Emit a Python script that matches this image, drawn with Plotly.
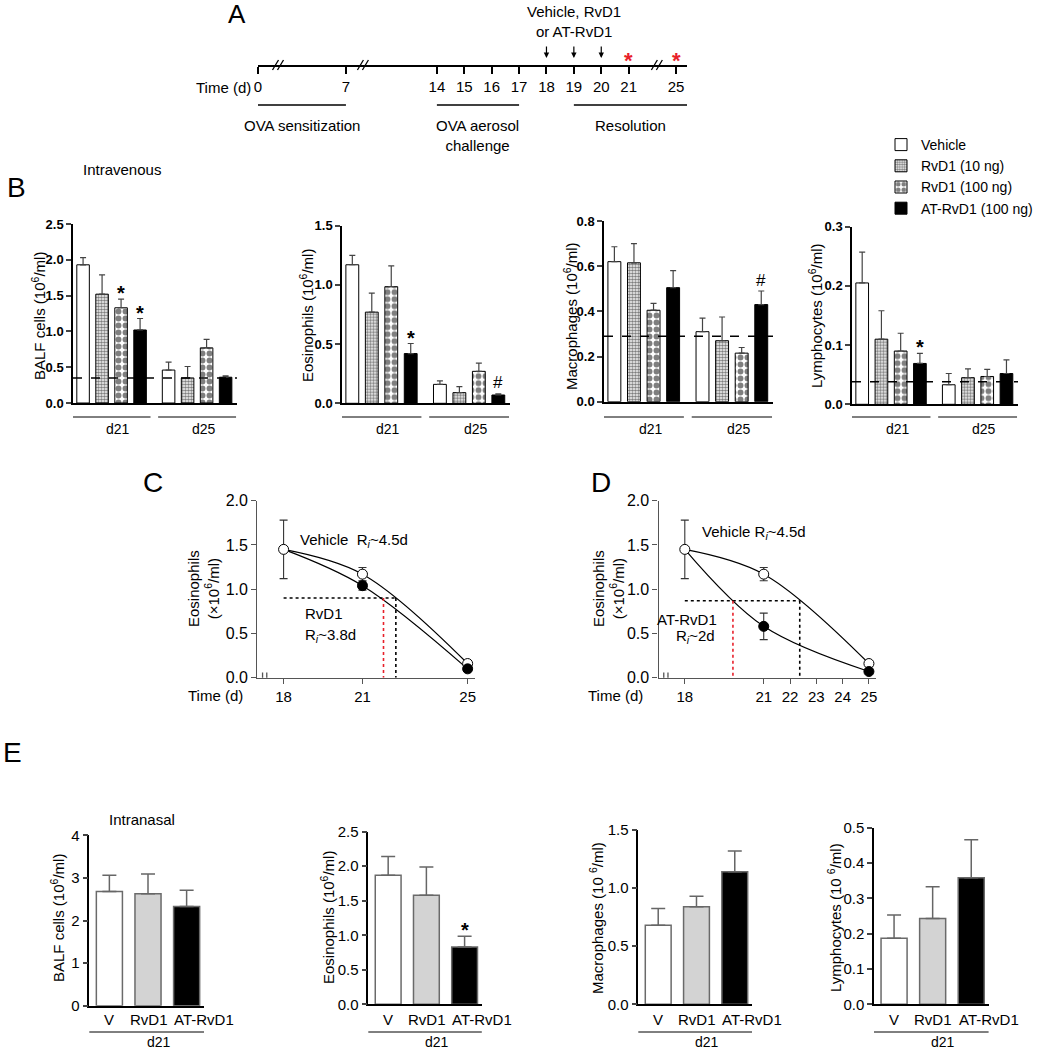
import plotly.graph_objects as go

W, H = 1041, 1050
FONT = "Liberation Sans, Arial, Helvetica, sans-serif"

# ================= DATA =================
# Panel A - protocol timeline
timeline_days = [0, 7, 14, 15, 16, 17, 18, 19, 20, 21, 25]
dosing_days = [18, 19, 20]
harvest_days = [21, 25]
phase_labels = ["OVA sensitization", "OVA aerosol<br>challenge", "Resolution"]
phase_start = [0, 14, 19]
phase_end = [7, 17, 25]

# Panel B - intravenous treatment, values (10^6/ml), [treatment][day]
treatments = ["Vehicle", "RvD1 (10 ng)", "RvD1 (100 ng)", "AT-RvD1 (100 ng)"]
b_days = ["d21", "d25"]
balf_mean = [[1.93, 0.46], [1.52, 0.35], [1.33, 0.77], [1.02, 0.36]]
balf_sem = [[0.10, 0.11], [0.27, 0.16], [0.12, 0.12], [0.16, 0.02]]
eos_mean = [[1.17, 0.16], [0.77, 0.09], [0.985, 0.27], [0.42, 0.07]]
eos_sem = [[0.08, 0.03], [0.16, 0.05], [0.175, 0.07], [0.085, 0.01]]
mac_mean = [[0.62, 0.31], [0.615, 0.27], [0.405, 0.215], [0.505, 0.43]]
mac_sem = [[0.066, 0.06], [0.085, 0.105], [0.03, 0.025], [0.075, 0.06]]
lym_mean = [[0.205, 0.033], [0.11, 0.045], [0.09, 0.047], [0.069, 0.052]]
lym_sem = [[0.052, 0.019], [0.048, 0.015], [0.03, 0.012], [0.017, 0.023]]
naive_baseline = [0.35, None, 0.29, 0.038]
b_titles = ["BALF cells (10<sup>6</sup>/ml)", "Eosinophils (10<sup>6</sup>/ml)",
            "Macrophages (10<sup>6</sup>/ml)", "Lymphocytes (10<sup>6</sup>/ml)"]
b_ymax = [2.5, 1.5, 0.8, 0.3]
b_dtick = [0.5, 0.5, 0.2, 0.1]
# significance marks: (treatment index, day index, symbol)
b_marks = [[(2, 0, "*"), (3, 0, "*")], [(3, 0, "*"), (3, 1, "#")], [(3, 1, "#")], [(3, 0, "*")]]

# Panels C/D - eosinophil resolution kinetics (x10^6/ml)
cd_days = [18, 21, 25]
veh_eos = [1.45, 1.17, 0.16]
veh_eos_sem = [0.33, 0.075, 0.02]
rvd1_eos = [1.45, 1.04, 0.10]
rvd1_eos_sem = [0.33, 0.05, 0.02]
atrvd1_eos = [1.45, 0.58, 0.07]
atrvd1_eos_sem = [0.33, 0.15, 0.015]
c_half_level, c_t_veh, c_t_trt = 0.90, 22.27, 21.8
d_half_level, d_t_veh, d_t_trt = 0.87, 22.37, 19.83
c_ticks = [18, 21, 25]
d_ticks = [18, 21, 22, 23, 24, 25]

# Panel E - intranasal, d21
e_groups = ["V", "RvD1", "AT-RvD1"]
e_balf_mean = [2.68, 2.63, 2.33]
e_balf_sem = [0.38, 0.46, 0.38]
e_eos_mean = [1.87, 1.58, 0.83]
e_eos_sem = [0.27, 0.41, 0.155]
e_mac_mean = [0.68, 0.84, 1.14]
e_mac_sem = [0.145, 0.09, 0.18]
e_lym_mean = [0.187, 0.243, 0.358]
e_lym_sem = [0.066, 0.09, 0.108]
e_titles = ["BALF cells (10<sup>6</sup>/ml)", "Eosinophils (10<sup>6</sup>/ml)",
            "Macrophages (10 <sup>6</sup>/ml)", "Lymphocytes (10 <sup>6</sup>/ml)"]
e_ymax = [4, 2.5, 1.5, 0.5]
e_dtick = [1, 0.5, 0.5, 0.1]
e_marks = [[], [(2, "*")], [], []]

# ================= FIGURE =================
fig = go.Figure()
layout = dict(width=W, height=H, margin=dict(l=0, r=0, t=0, b=0, autoexpand=False),
              paper_bgcolor="white", plot_bgcolor="white",
              font=dict(family=FONT, color="black", size=14),
              barmode="overlay", hovermode=False)
annotations = []
shapes = []
axes_count = [0]


def px(x):
    return x / W


def py(y):
    return 1 - y / H


def add_axes(xpx, ypx, xrange, yrange, xopts, yopts):
    axes_count[0] += 1
    n = axes_count[0]
    s = "" if n == 1 else str(n)
    layout["xaxis" + s] = dict(domain=[px(xpx[0]), px(xpx[1])], range=xrange, anchor="y" + s,
                               showgrid=False, zeroline=False, fixedrange=True, automargin=False, **xopts)
    layout["yaxis" + s] = dict(domain=[py(ypx[1]), py(ypx[0])], range=yrange, anchor="x" + s,
                               showgrid=False, zeroline=False, fixedrange=True, automargin=False, **yopts)
    return "x" + s, "y" + s


def text(x, y, t, size=14, xref="paper", yref="paper", **kw):
    kw.setdefault("xanchor", "center")
    kw.setdefault("yanchor", "middle")
    annotations.append(dict(x=x, y=y, xref=xref, yref=yref, text=t, showarrow=False,
                            font=dict(family=FONT, size=size, color=kw.pop("color", "black"),
                                      weight=kw.pop("weight", "normal")), **kw))


# ---------- Panel A ----------
def tl_pos(day):
    # broken schematic time scale (compressed sensitization, breaks 7-14 and 21-25)
    if day <= 7:
        return day * 3.21 / 7
    if day <= 21:
        return 6.53 + (day - 14)
    return 13.53 + (day - 21) * 1.73 / 4


TL_PX = 27.4
tl_end = 15.66
xa, ya = add_axes([258, 687], [40, 65], [0, tl_end], [0, 1],
                  dict(showline=True, linecolor="black", linewidth=1.5, ticks="outside", ticklen=7,
                       tickwidth=1.5, tickcolor="black", tickvals=[tl_pos(d) for d in timeline_days],
                       ticktext=[str(d) for d in timeline_days], tickfont=dict(size=15), tickangle=0),
                  dict(visible=False))
fig.add_trace(go.Scatter(x=[0], y=[0], xaxis=xa, yaxis=ya, mode="markers",
                         marker=dict(opacity=0), showlegend=False))
for bp in [0.73, 3.83, 14.56]:
    for off in (-2.5, 2.5):
        xc = bp + off / TL_PX
        shapes.append(dict(type="line", xref=xa, yref="paper", x0=xc - 3 / TL_PX, x1=xc + 3 / TL_PX,
                           y0=py(70), y1=py(60), line=dict(color="black", width=1.3)))
text(px(253), py(88), "Time (d)", 15, xanchor="right")
for lab, s0, s1 in zip(phase_labels, phase_start, phase_end):
    x0 = tl_pos(s0)
    x1 = tl_end if s1 == timeline_days[-1] else tl_pos(s1)
    shapes.append(dict(type="line", xref=xa, yref="paper", x0=x0, x1=x1, y0=py(105), y1=py(105),
                       line=dict(color="black", width=1.5)))
    text((x0 + x1) / 2, py(115), lab, 15, xref=xa, yanchor="top")
for d in dosing_days:
    annotations.append(dict(x=tl_pos(d), y=py(58), xref=xa, yref="paper", text="", showarrow=True,
                            ax=0, ay=-13, arrowhead=2, arrowsize=0.9, arrowwidth=1.2, arrowcolor="black"))
text(tl_pos(19), py(22), "Vehicle, RvD1<br>or AT-RvD1", 15, xref=xa)
for d in harvest_days:
    text(tl_pos(d), py(60), "*", 22, xref=xa, color="#e8202a", weight="bold")
text(px(237), py(14), "A", 26)

# ---------- Panel B ----------
b_means = [balf_mean, eos_mean, mac_mean, lym_mean]
b_sems = [balf_sem, eos_sem, mac_sem, lym_sem]
b_xpx = [[73, 237], [342, 510], [604, 773], [852, 1018]]
b_ypx = [[224, 403], [225.7, 403.3], [221, 401.7], [226.7, 404.3]]
b_title_x = [38, 306, 570, 815]
b_xrange = [-0.53, 8.1]
g_off = 4.5
bw = 0.66
b_fill = ["white", "white", "white", "black"]
b_pattern = [dict(shape=""),
             dict(shape=".", size=3, solidity=0.6, fgcolor="black", bgcolor="white"),
             dict(shape=".", size=7, solidity=0.55, fgcolor="black", bgcolor="white"),
             dict(shape="")]

for k in range(4):
    xa, ya = add_axes(b_xpx[k], b_ypx[k], b_xrange, [0, b_ymax[k]],
                      dict(showline=True, linecolor="black", linewidth=1.5, showticklabels=False, ticks=""),
                      dict(showline=True, linecolor="black", linewidth=1.5, ticks="outside", ticklen=5,
                           tickwidth=1.5, dtick=b_dtick[k], tick0=0, tickformat=".1f",
                           tickfont=dict(size=13, weight="bold")))
    for t in range(4):
        xs = [t + g * g_off for g in range(len(b_days))]
        fig.add_trace(go.Bar(x=xs, y=b_means[k][t], width=bw, xaxis=xa, yaxis=ya,
                             name=treatments[t], legendgroup=treatments[t], showlegend=(k == 0),
                             marker=dict(color=b_fill[t], line=dict(color="black", width=1),
                                         pattern=b_pattern[t]),
                             error_y=dict(type="data", array=b_sems[k][t], arrayminus=[0, 0],
                                          symmetric=False, color="#444", thickness=1.2, width=3)))
    if naive_baseline[k] is not None:
        shapes.append(dict(type="line", xref=xa + " domain", yref=ya, x0=0, x1=1,
                           y0=naive_baseline[k], y1=naive_baseline[k],
                           line=dict(color="black", width=1.5, dash="dash")))
    for t, g, sym in b_marks[k]:
        top = b_means[k][t][g] + b_sems[k][t][g]
        if sym == "*":
            text(t + g * g_off, top, "*", 20, xref=xa, yref=ya, weight="bold", yshift=6)
        else:
            text(t + g * g_off, top, "#", 17, xref=xa, yref=ya, yshift=11)
    for g, dlab in enumerate(b_days):
        x0, x1 = g * g_off - 0.55, g * g_off + 3.55
        shapes.append(dict(type="line", xref=xa, yref="paper", x0=x0, x1=x1, y0=py(417), y1=py(417),
                           line=dict(color="black", width=1)))
        text((x0 + x1) / 2 + 0.35, py(429), dlab, 14, xref=xa)
    text(px(b_title_x[k]), py(316), b_titles[k], 15, textangle=-90)

text(px(122), py(170), "Intravenous", 15)
text(px(16), py(188), "B", 28)

layout["legend"] = dict(x=px(881), y=py(129), xanchor="left", yanchor="top",
                        font=dict(size=14), bgcolor="rgba(0,0,0,0)", tracegroupgap=0,
                        itemwidth=30, traceorder="normal")

# ---------- Panels C / D ----------
cd_ypx = [500.7, 677.7]
cd_xrange = [17.0, 25.28]


def kinetics_panel(xpx, trt, trt_sem, level, t_veh, t_trt, ticks):
    xa, ya = add_axes(xpx, cd_ypx, cd_xrange, [0, 2],
                      dict(showline=True, linecolor="#555", linewidth=1.3, ticks="outside", ticklen=5,
                           tickcolor="#555", tickvals=ticks, tickfont=dict(size=15), tickangle=0),
                      dict(showline=True, linecolor="#555", linewidth=1.3, ticks="outside", ticklen=5,
                           tickcolor="#555", dtick=0.5, tick0=0, tickformat=".1f",
                           tickfont=dict(size=16)))
    # fitted resolution curves
    fig.add_trace(go.Scatter(x=cd_days, y=trt, xaxis=xa, yaxis=ya, mode="lines", showlegend=False,
                             line=dict(color="black", width=1.2, shape="spline", smoothing=1.0)))
    fig.add_trace(go.Scatter(x=cd_days, y=veh_eos, xaxis=xa, yaxis=ya, mode="lines", showlegend=False,
                             line=dict(color="black", width=1.2, shape="spline", smoothing=1.0)))
    # R_i construction lines
    fig.add_trace(go.Scatter(x=[cd_days[0], t_veh], y=[level, level], xaxis=xa, yaxis=ya, mode="lines",
                             showlegend=False, line=dict(color="black", width=1.6, dash="dot")))
    fig.add_trace(go.Scatter(x=[t_veh, t_veh], y=[level, 0], xaxis=xa, yaxis=ya, mode="lines",
                             showlegend=False, line=dict(color="black", width=1.6, dash="dot")))
    fig.add_trace(go.Scatter(x=[t_trt, t_trt], y=[level, 0], xaxis=xa, yaxis=ya, mode="lines",
                             showlegend=False, line=dict(color="#e8202a", width=1.6, dash="dot")))
    # points
    fig.add_trace(go.Scatter(x=cd_days, y=veh_eos, xaxis=xa, yaxis=ya, mode="markers", showlegend=False,
                             marker=dict(color="white", size=10, line=dict(color="black", width=1)),
                             error_y=dict(type="data", array=veh_eos_sem, color="#333", thickness=1.1, width=4)))
    fig.add_trace(go.Scatter(x=cd_days[1:], y=trt[1:], xaxis=xa, yaxis=ya, mode="markers", showlegend=False,
                             marker=dict(color="black", size=10, line=dict(color="black", width=1)),
                             error_y=dict(type="data", array=trt_sem[1:], color="#333", thickness=1.1, width=4)))
    # axis break marks
    for bx in (17.2, 17.36):
        shapes.append(dict(type="line", xref=xa, yref=ya, x0=bx, x1=bx, y0=-0.06, y1=0.06,
                           line=dict(color="#555", width=1.3)))
    return xa, ya


xa, ya = kinetics_panel([257.3, 475], rvd1_eos, rvd1_eos_sem, c_half_level, c_t_veh, c_t_trt, c_ticks)
text(18.55, 1.545, "Vehicle  R<sub><i>i</i></sub>~4.5d", 15, xref=xa, yref=ya, xanchor="left")
text(18.74, 0.72, "RvD1", 15, xref=xa, yref=ya, xanchor="left")
text(18.74, 0.48, "R<sub><i>i</i></sub>~3.8d", 15, xref=xa, yref=ya, xanchor="left")
text(px(245), py(695), "Time (d)", 15, xanchor="right")
text(px(203), py(589), "Eosinophils<br>(×10<sup>6</sup>/ml)", 15, textangle=-90)
text(px(153), py(482), "C", 28)

xa, ya = kinetics_panel([658.5, 876.3], atrvd1_eos, atrvd1_eos_sem, d_half_level, d_t_veh, d_t_trt, d_ticks)
text(18.59, 1.646, "Vehicle R<sub><i>i</i></sub>~4.5d", 15, xref=xa, yref=ya, xanchor="left")
text(18.1, 0.66, "AT-RvD1", 15, xref=xa, yref=ya)
text(18.4, 0.46, "R<sub><i>i</i></sub>~2d", 15, xref=xa, yref=ya)
text(px(645), py(695), "Time (d)", 15, xanchor="right")
text(px(608), py(589), "Eosinophils<br>(×10<sup>6</sup>/ml)", 15, textangle=-90)
text(px(601), py(482), "D", 28)

# ---------- Panel E ----------
e_means = [e_balf_mean, e_eos_mean, e_mac_mean, e_lym_mean]
e_sems = [e_balf_sem, e_eos_sem, e_mac_sem, e_lym_sem]
e_xpx = [[89.3, 204], [368.3, 481.8], [638.3, 752], [874, 988.6]]
e_ypx = [[835.3, 1005.7], [831.7, 1004.3], [830, 1004.3], [827.7, 1004.3]]
e_title_x = [57, 327, 596, 834]
e_xrange = [-0.52, 2.45]
e_fill = ["white", "#d3d3d3", "black"]
e_label_shift = [0, 0.02, 0.45]   # category labels nudged apart as in the original
for k in range(4):
    fmt = "d" if e_dtick[k] >= 1 else ".1f"
    xa, ya = add_axes(e_xpx[k], e_ypx[k], e_xrange, [0, e_ymax[k]],
                      dict(showline=True, linecolor="black", linewidth=1.5, ticks="", showticklabels=False),
                      dict(showline=True, linecolor="black", linewidth=1.5, ticks="outside", ticklen=5,
                           tickwidth=1.5, dtick=e_dtick[k], tick0=0, tickformat=fmt,
                           tickfont=dict(size=15)))
    fig.add_trace(go.Bar(x=list(range(len(e_groups))), y=e_means[k], width=0.675, xaxis=xa, yaxis=ya,
                         showlegend=False,
                         marker=dict(color=e_fill, line=dict(color="#6a6a6a", width=1.5)),
                         error_y=dict(type="data", array=e_sems[k], arrayminus=[0, 0, 0], symmetric=False,
                                      color="#666", thickness=1.5, width=7)))
    for i, lab in enumerate(e_groups):
        text(i + e_label_shift[i], py(1019), lab, 15, xref=xa)
    for g, sym in e_marks[k]:
        text(g, e_means[k][g] + e_sems[k][g], sym, 20, xref=xa, yref=ya, weight="bold", yshift=6)
    shapes.append(dict(type="line", xref=xa, yref="paper", x0=-0.7, x1=3.27, y0=py(1032), y1=py(1032),
                       line=dict(color="black", width=1)))
    text(1.28, py(1042), "d21", 14, xref=xa)
    text(px(e_title_x[k]), py(918), e_titles[k], 15, textangle=-90)

text(px(142), py(819), "Intranasal", 15)
text(px(12), py(752), "E", 28)

layout["annotations"] = annotations
layout["shapes"] = shapes
fig.update_layout(**layout)
fig.write_html("out.html", config={"displayModeBar": False},
               post_script="document.body.style.margin='0px';")
